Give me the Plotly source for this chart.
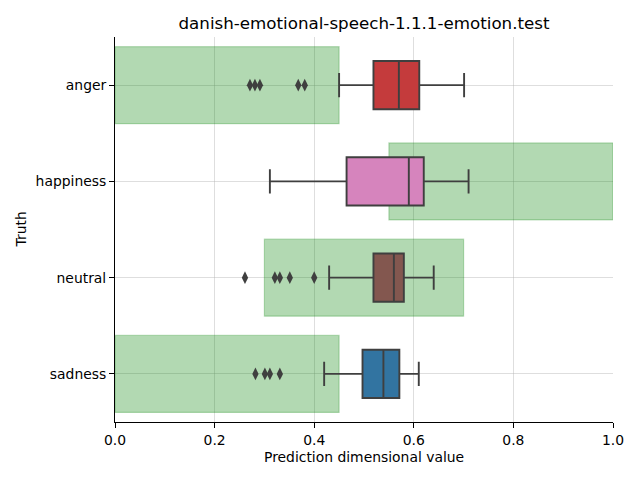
import plotly.graph_objects as go

categories = ["anger", "happiness", "neutral", "sadness"]
box_colors = ["#c43b3c", "#d684bd", "#83574f", "#3274a1"]

q1 = [0.519, 0.465, 0.519, 0.497]
median = [0.570, 0.590, 0.560, 0.539]
q3 = [0.611, 0.620, 0.580, 0.571]
lowerfence = [0.450, 0.311, 0.430, 0.420]
upperfence = [0.701, 0.710, 0.640, 0.610]

outlier_cats = ["anger"] * 5 + ["neutral"] * 5 + ["sadness"] * 4
outlier_vals = [0.271, 0.281, 0.291, 0.368, 0.381,
                0.261, 0.321, 0.331, 0.351, 0.400,
                0.282, 0.301, 0.311, 0.331]

band_lo = [0.0, 0.55, 0.3, 0.0]
band_hi = [0.45, 1.0, 0.7, 0.45]

x_ticks = [0.0, 0.2, 0.4, 0.6, 0.8, 1.0]
x_tick_labels = ["0.0", "0.2", "0.4", "0.6", "0.8", "1.0"]

FONT = "DejaVu Sans"
EDGE = "#3f3f3f"

fig = go.Figure()

fig.add_trace(go.Bar(
    orientation="h",
    y=categories,
    base=band_lo,
    x=[h - l for l, h in zip(band_lo, band_hi)],
    width=0.8,
    marker=dict(color="rgba(0,128,0,0.3)", line=dict(color="rgba(0,128,0,0.25)", width=1.2)),
    hoverinfo="skip",
    showlegend=False,
))

for i, cat in enumerate(categories):
    fig.add_trace(go.Box(
        orientation="h",
        y=[cat],
        q1=[q1[i]], median=[median[i]], q3=[q3[i]],
        lowerfence=[lowerfence[i]], upperfence=[upperfence[i]],
        width=0.5,
        whiskerwidth=0.5,
        fillcolor=box_colors[i],
        line=dict(color=EDGE, width=1.9),
        boxpoints=False,
        showlegend=False,
    ))

fig.add_trace(go.Scatter(
    x=outlier_vals, y=outlier_cats, mode="markers",
    marker=dict(symbol="diamond-tall", color=EDGE, size=9, line=dict(width=0)),
    showlegend=False,
))

fig.update_layout(
    width=640, height=480,
    margin=dict(l=115, r=27, t=37, b=58),
    plot_bgcolor="white", paper_bgcolor="white",
    boxmode="overlay",
    showlegend=False,
    font=dict(family=FONT, size=13.9, color="black"),
    title=dict(text="danish-emotional-speech-1.1.1-emotion.test",
               x=(115 + 613) / 2 / 640, xanchor="center",
               y=1 - 23 / 480, yanchor="middle",
               font=dict(family=FONT, size=16.7, color="black")),
    xaxis=dict(range=[0, 1], tickvals=x_ticks, ticktext=x_tick_labels,
               showgrid=True, gridcolor="rgba(176,176,176,0.42)", gridwidth=1,
               zeroline=False, showline=True, linecolor="black", linewidth=1,
               ticks="outside", ticklen=5, tickcolor="black", tickwidth=1,
               layer="above traces", mirror=False, fixedrange=True),
    yaxis=dict(type="category", categoryorder="array", categoryarray=categories,
               range=[3.5, -0.5],
               showgrid=True, gridcolor="rgba(176,176,176,0.42)", gridwidth=1,
               zeroline=False, showline=True, linecolor="black", linewidth=1,
               ticks="outside", ticklen=5, tickcolor="black", tickwidth=1,
               layer="above traces", fixedrange=True),
    annotations=[
        dict(text="Prediction dimensional value", xref="paper", yref="paper",
             x=0.5, y=-35 / 385, xanchor="center", yanchor="middle",
             showarrow=False, font=dict(family=FONT, size=13.9, color="black")),
        dict(text="Truth", xref="paper", yref="paper",
             x=-95 / 498, y=0.5, xanchor="center", yanchor="middle",
             textangle=-90, showarrow=False,
             font=dict(family=FONT, size=13.9, color="black")),
    ],
)

fig.write_html("out.html", config={"displayModeBar": False},
               post_script="document.body.style.margin='0px';document.body.style.padding='0px';")
